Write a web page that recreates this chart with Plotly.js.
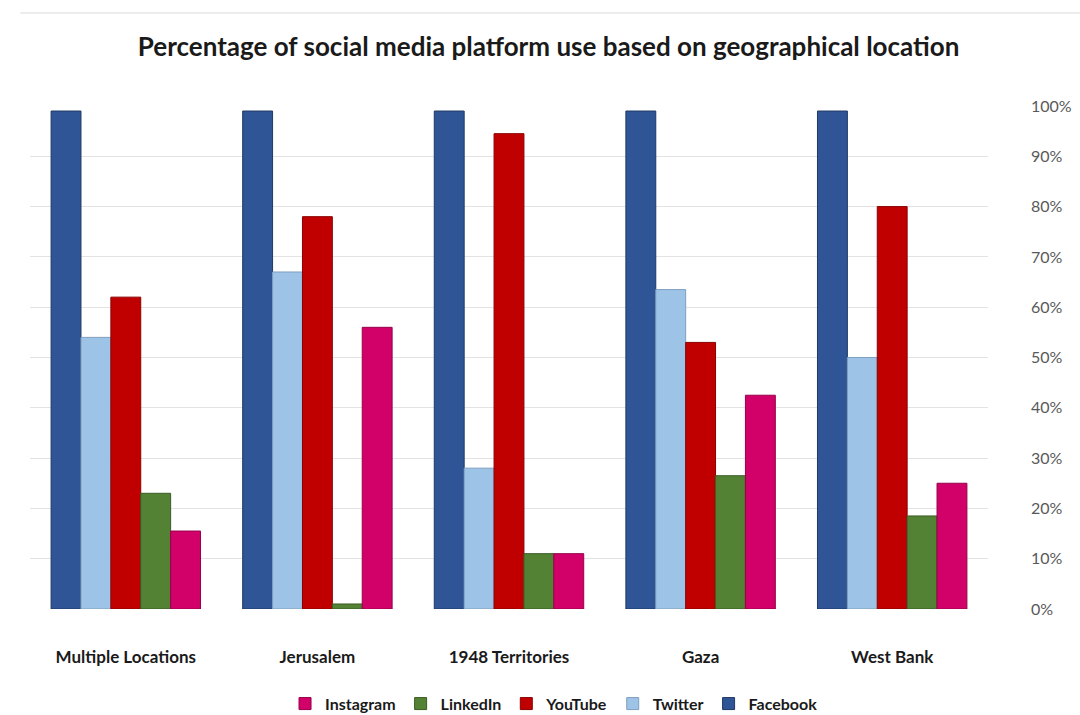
<!DOCTYPE html>
<html>
<head>
<meta charset="utf-8">
<script src="https://cdn.plot.ly/plotly-3.0.1.min.js"></script>
<style>
  body { margin: 0; background: #fff; }
  #plot { width: 1080px; height: 715px; }
</style>
</head>
<body>
<div id="plot"></div>
<script>
// Data (fractions of 1)
let locations = ["Multiple Locations", "Jerusalem", "1948 Territories", "Gaza", "West Bank"]
let facebook = [0.99, 0.99, 0.99, 0.99, 0.99]
let twitter = [0.54, 0.67, 0.28, 0.635, 0.50]
let youtube = [0.62, 0.78, 0.945, 0.53, 0.80]
let linkedin = [0.23, 0.01, 0.11, 0.265, 0.185]
let instagram = [0.155, 0.56, 0.11, 0.425, 0.25]

// one trace per platform, left to right in each group
function makeTrace(name, values, color, side) {
    return {
        x: locations,
        y: values,
        type: 'bar',
        name: name,
        marker: { color: color, line: { color: side, width: 1 } },
        hovertemplate: '%{x}<br>' + name + ': %{y:.0%}<extra></extra>'
    }
}

let traceData = [
    makeTrace("Facebook", facebook, "#2f5597", "#1f3864"),
    makeTrace("Twitter", twitter, "#9dc3e6", "#7f9fbf"),
    makeTrace("YouTube", youtube, "#c00000", "#8b0000"),
    makeTrace("LinkedIn", linkedin, "#548235", "#3b5c25"),
    makeTrace("Instagram", instagram, "#d20069", "#96004b")
]

let font = "Lato, 'Open Sans', sans-serif"

let layout = {
    width: 1080,
    height: 715,
    paper_bgcolor: "#ffffff",
    plot_bgcolor: "#ffffff",
    margin: { l: 30, r: 92, t: 106, b: 106, autoexpand: false },
    title: {
        text: "Percentage of social media platform use based on geographical location",
        font: { family: font, size: 26, color: "#1a1a1a", weight: "bold" },
        x: 0.508,
        xanchor: "center",
        xref: "container",
        y: 0.935,
        yanchor: "middle"
    },
    barmode: "group",
    bargap: 0.22,
    bargroupgap: 0,
    xaxis: {
        type: "category",
        automargin: false,
        showgrid: false,
        zeroline: false,
        showline: false,
        ticks: "",
        ticklabelstandoff: 36,
        tickfont: { family: font, size: 17, color: "#1a1a1a", weight: "bold" }
    },
    yaxis: {
        side: "right",
        automargin: false,
        range: [0, 1],
        dtick: 0.1,
        tickformat: ".0%",
        showgrid: true,
        gridcolor: "#e3e3e3",
        gridwidth: 1,
        zeroline: false,
        showline: false,
        ticks: "",
        ticklabelstandoff: 42,
        tickfont: { family: font, size: 16, color: "#595959" }
    },
    showlegend: true,
    legend: {
        orientation: "h",
        traceorder: "reversed",
        x: 0.547,
        xanchor: "center",
        y: -0.222,
        yanchor: "bottom",
        font: { family: font, size: 16, color: "#1a1a1a", weight: "bold" },
        itemwidth: 30
    },
    shapes: [
        { type: "line", xref: "paper", yref: "paper", x0: -0.01, x1: 1.1, y0: 1.185, y1: 1.185,
          line: { color: "#d9d9d9", width: 1 } }
    ]
}

Plotly.newPlot("plot", traceData, layout, { displayModeBar: false })
</script>
</body>
</html>
